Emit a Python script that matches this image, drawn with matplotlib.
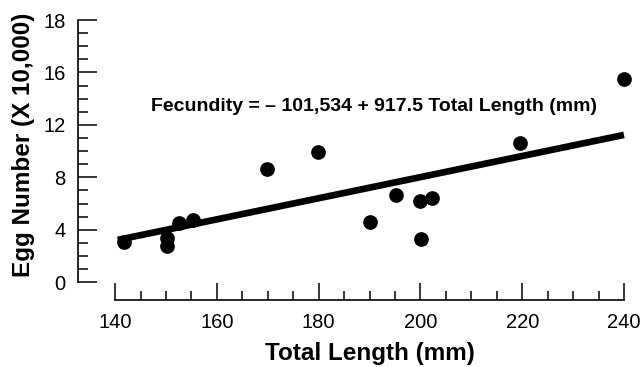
import matplotlib
matplotlib.use('Agg')
import numpy as np
import matplotlib.pyplot as plt
from matplotlib.ticker import FixedLocator

plt.rcParams['font.family'] = ['Liberation Sans', 'DejaVu Sans']

# total length (mm) vs egg number (x 10,000)
length_mm = [141.8, 150.2, 150.2, 152.6, 155.3, 169.8, 179.9, 190.1,
             195.2, 199.9, 202.2, 200.1, 219.6, 240.0]
egg_number = [3.10, 3.36, 2.77, 4.50, 4.75, 8.62, 9.92, 4.62,
              6.66, 6.20, 6.41, 3.28, 10.6, 15.5]

# regression line as drawn
fit_x = [140.5, 240.0]
fit_y = [3.23, 11.24]

x_ticks = [140, 160, 180, 200, 220, 240]
y_ticks = [0, 4, 8, 12, 16, 20]
y_ticklabels = ['0', '4', '8', '12', '16', '18']  # top label is printed "18" in the source

equation = 'Fecundity = \u2013 101,534 + 917.5 Total Length (mm)'

fig = plt.figure(figsize=(6.4, 3.67), dpi=100)
ax = fig.add_axes([0.1219, 0.1826, 0.869, 0.7807])

ax.plot(fit_x, fit_y, color='black', linewidth=4.8, solid_capstyle='butt', zorder=2)
ax.scatter(length_mm, egg_number, s=112, color='black', linewidths=0, zorder=3)

ax.set_xlim(132.7, 242)
ax.set_ylim(-1.35, 20.5)

# axes: only left and bottom, trimmed to the tick range
ax.spines['top'].set_visible(False)
ax.spines['right'].set_visible(False)
ax.spines['left'].set_bounds(0, 20)
ax.spines['bottom'].set_bounds(140, 240)
for s in ('left', 'bottom'):
    ax.spines[s].set_linewidth(1.2)

ax.xaxis.set_major_locator(FixedLocator(x_ticks))
ax.xaxis.set_minor_locator(FixedLocator(np.arange(140, 241, 5)))
ax.yaxis.set_major_locator(FixedLocator(y_ticks))
ax.yaxis.set_minor_locator(FixedLocator(np.arange(0, 21, 1)))
ax.set_xticklabels([str(t) for t in x_ticks])
ax.set_yticklabels(y_ticklabels)

ax.tick_params(axis='y', which='major', direction='in', length=14, width=1.1, pad=9, labelsize=14.5)
ax.tick_params(axis='y', which='minor', direction='in', length=7, width=1.1)
ax.tick_params(axis='x', which='major', direction='in', length=12, width=1.1, pad=9.5, labelsize=14.5)
ax.tick_params(axis='x', which='minor', direction='in', length=6.5, width=1.1)

ax.set_xlabel('Total Length (mm)', fontsize=17.5, fontweight='bold')
ax.set_ylabel('Egg Number (X 10,000)', fontsize=17.5, fontweight='bold')
ax.xaxis.set_label_coords(0.524, -0.147)
ax.yaxis.set_label_coords(-0.077, 0.541)

ax.text(190.9, 13.4, equation, ha='center', va='center', fontsize=14, fontweight='bold')

fig.savefig('out.png', dpi=100)
